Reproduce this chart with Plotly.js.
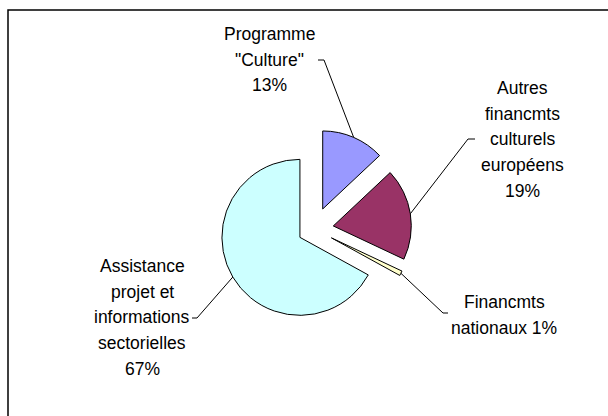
<!DOCTYPE html>
<html>
<head>
<meta charset="utf-8">
<script src="https://cdn.plot.ly/plotly-3.0.1.min.js"></script>
<style>html,body{margin:0;padding:0;background:#fff;}#chart{width:608px;height:416px;}</style>
</head>
<body>
<div id="chart"></div>
<script>
// ---- data ----
var categories = ['Programme "Culture"', 'Autres financmts culturels européens', 'Financmts nationaux', 'Assistance projet et informations sectorielles'];
var values = [13, 19, 1, 67];
var labelTexts = [
  'Programme<br>"Culture"<br>13%',
  'Autres<br>financmts<br>culturels<br>européens<br>19%',
  'Financmts<br>nationaux 1%',
  'Assistance<br>projet et<br>informations<br>sectorielles<br>67%'
];
var colors = ['#9999FF', '#993366', '#FFFFCC', '#CCFFFF'];
var pulls = [0.28, 0.25, 0.25, 0.21];

// ---- layout config (pixels) ----
var W = 608, H = 416;
var dom = {x: [0.30, 0.733], y: [0.2095, 0.6895]};
var fontSize = 17.5, lineGap = 25.7;
// label block: center x, first line middle y
var labelPos = [
  {x: 269, y: 34},
  {x: 522.5, y: 88},
  {x: 504, y: 302},
  {x: 142, y: 266}
];
// leader line: bend point and end of tick (pixels)
var leaderPts = [
  [[324, 60], [318, 60]],
  [[468, 139], [475, 139]],
  [[443, 313], [448, 313]],
  [[197, 318], [192, 318]]
];

function px(x) { return x / W; }
function py(y) { return 1 - y / H; }

// replicate pie geometry
var boxW = W * (dom.x[1] - dom.x[0]), boxH = H * (dom.y[1] - dom.y[0]);
var maxPull = Math.max.apply(null, pulls);
var r = Math.min(boxW, boxH) / (2 + 2 * maxPull);
var cx = W * (dom.x[0] + dom.x[1]) / 2;
var cy = H * (2 - dom.y[0] - dom.y[1]) / 2;
var total = values.reduce(function(a, b) { return a + b; }, 0);

var shapes = [];
var cum = 0;
for (var i = 0; i < values.length; i++) {
  var mid = (cum + values[i] / 2) / total * 2 * Math.PI;
  cum += values[i];
  var dx = Math.sin(mid), dy = -Math.cos(mid);
  var ax = cx + pulls[i] * r * dx + r * dx;
  var ay = cy + pulls[i] * r * dy + r * dy;
  var b = leaderPts[i][0], e = leaderPts[i][1];
  shapes.push({
    type: 'path', xref: 'paper', yref: 'paper',
    path: 'M' + px(ax) + ',' + py(ay) + ' L' + px(b[0]) + ',' + py(b[1]) + ' L' + px(e[0]) + ',' + py(e[1]),
    line: {color: '#000', width: 1}
  });
}
// frame
shapes.push({type: 'rect', xref: 'paper', yref: 'paper', x0: px(8), y0: -0.02, x1: 1.02, y1: py(10),
  line: {color: '#000', width: 1.5}});

var annotations = [];
labelTexts.forEach(function(t, i) {
  t.split('<br>').forEach(function(line, k) {
    annotations.push({
      xref: 'paper', yref: 'paper', x: px(labelPos[i].x), y: py(labelPos[i].y + k * lineGap),
      xanchor: 'center', yanchor: 'middle', showarrow: false, text: line,
      font: {family: 'Liberation Sans, Arial, sans-serif', size: fontSize, color: '#000'}
    });
  });
});

var trace = {
  type: 'pie', labels: categories, values: values, sort: false,
  direction: 'clockwise', rotation: 0, pull: pulls,
  marker: {colors: colors, line: {color: '#000', width: 1}},
  textinfo: 'none', domain: dom, showlegend: false
};

Plotly.newPlot('chart', [trace], {
  width: W, height: H, margin: {l: 0, r: 0, t: 0, b: 0},
  paper_bgcolor: '#fff', plot_bgcolor: '#fff', showlegend: false,
  shapes: shapes, annotations: annotations
}, {displayModeBar: false, staticPlot: true});
</script>
</body>
</html>
